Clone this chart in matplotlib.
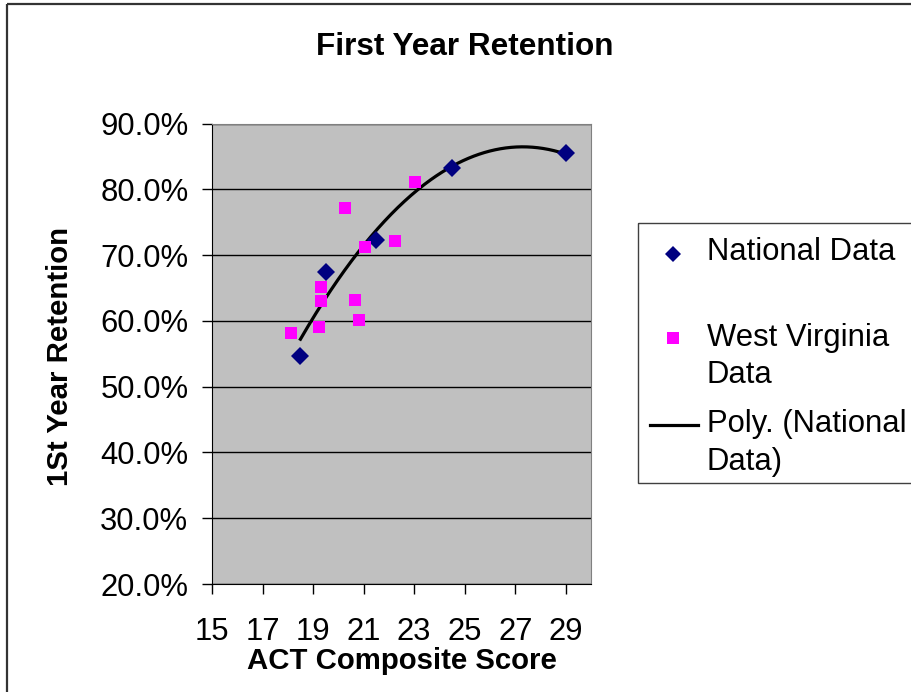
"""
First year retention vs ACT composite score
"""

import matplotlib

matplotlib.use("Agg")
import matplotlib.pyplot as plt
import numpy as np
from matplotlib.patches import Rectangle
from matplotlib.ticker import FuncFormatter

plt.rcParams["font.family"] = ["Liberation Sans", "DejaVu Sans"]

# national averages (diamonds)
national_act = [18.5, 19.5, 21.5, 24.5, 29.0]
national_ret = [54.7, 67.5, 72.3, 83.3, 85.5]

# west virginia institutions (squares)
wv_act = [18.13, 19.25, 19.33, 19.33, 20.28, 20.67, 20.83, 21.07, 22.26, 23.04]
wv_ret = [58.2, 59.1, 63.0, 65.2, 77.1, 63.1, 60.1, 71.3, 72.2, 81.1]

x_ticks = [15, 17, 19, 21, 23, 25, 27, 29]
y_ticks = [20, 30, 40, 50, 60, 70, 80, 90]

W, H = 912, 692
TICK_FS = 22.3
TITLE_FS = 22.7
LABEL_FS = 21.2
LEGEND_FS = 22.3

fig = plt.figure(figsize=(W / 100, H / 100), dpi=100)
ax = fig.add_axes([212 / W, 108 / H, 379 / W, 460.5 / H])
ax.set_facecolor("#C0C0C0")

# 2nd order polynomial trend of national data
coef = np.polyfit(national_act, national_ret, 2)
xs = np.linspace(min(national_act), max(national_act), 200)
ax.plot(xs, np.polyval(coef, xs), color="black", lw=2.3, zorder=3)

ax.plot(national_act, national_ret, "D", color="#000080", ms=9.0, mew=0, zorder=4)
ax.plot(wv_act, wv_ret, "s", color="#FF00FF", ms=8.4, mew=0, zorder=4)

ax.set_xlim(15, 30)
ax.set_ylim(20, 90)
ax.set_xticks(x_ticks)
ax.set_yticks(y_ticks)
ax.yaxis.set_major_formatter(FuncFormatter(lambda v, p: f"{v:.1f}%"))
ax.grid(axis="y", color="black", lw=1.0, zorder=1)
ax.set_axisbelow(True)
ax.tick_params(axis="x", direction="out", length=7, width=1, pad=16.5, labelsize=TICK_FS)
ax.tick_params(axis="y", direction="out", length=7, width=1, pad=10, labelsize=TICK_FS)

for side in ["top", "right"]:
    ax.spines[side].set_color("#808080")
for side in ["left", "bottom"]:
    ax.spines[side].set_color("black")

ax.set_xlabel("ACT Composite Score", fontsize=LABEL_FS, fontweight="bold", va="center")
ax.xaxis.set_label_coords(0.5, (584 - 661) / 460.5)
ax.set_ylabel("1St Year Retention", fontsize=LABEL_FS, fontweight="bold", va="center")
ax.yaxis.set_label_coords((60 - 212) / 379, (584 - 356) / 460.5)

# overlay in pixel units for title, frame and legend
lay = fig.add_axes([0, 0, 1, 1], facecolor="none")
lay.set_xlim(0, W)
lay.set_ylim(H, 0)
lay.axis("off")

lay.text(464.5, 47, "First Year Retention", fontsize=TITLE_FS, fontweight="bold",
         ha="center", va="center")
lay.add_patch(Rectangle((7, 4), W, H, fill=False, ec="#333333", lw=1.6, clip_on=False))

# legend
lay.add_patch(Rectangle((638, 223), W, 260, fill=False, ec="#404040", lw=1.0))
lay.plot([673], [254], "D", color="#000080", ms=8.0, mew=0)
lay.plot([673], [338], "s", color="#FF00FF", ms=8.0, mew=0)
lay.plot([650, 698], [425, 425], color="black", lw=2.3)
leg_lines = [
    ("National Data", 252),
    ("West Virginia", 338),
    ("Data", 375),
    ("Poly. (National", 424),
    ("Data)", 462),
]
for txt, yy in leg_lines:
    lay.text(707, yy, txt, fontsize=LEGEND_FS, ha="left", va="center")

fig.savefig("out.png", dpi=100)
